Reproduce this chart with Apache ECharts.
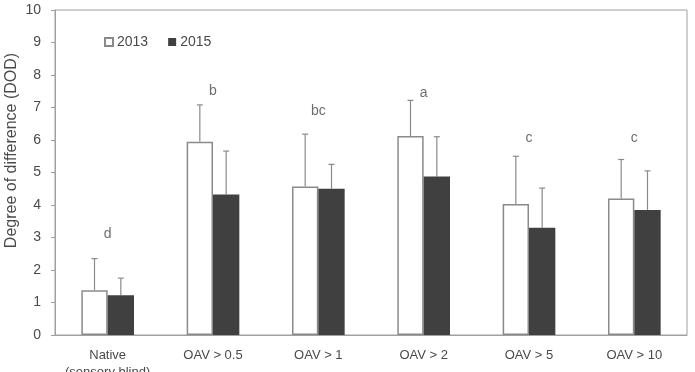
<!DOCTYPE html>
<html>
<head>
<meta charset="utf-8">
<script src="https://cdn.jsdelivr.net/npm/echarts@6/dist/echarts.min.js"></script>
<style>
  html, body { margin: 0; padding: 0; background: #fff; }
  #chart { width: 695px; height: 372px; }
</style>
</head>
<body>
<div id="chart"></div>
<script>
const categories = ['Native\n(sensory blind)', 'OAV > 0.5', 'OAV > 1', 'OAV > 2', 'OAV > 5', 'OAV > 10'];
const mean2013 = [1.38, 5.95, 4.57, 6.12, 4.03, 4.2];
const upper2013 = [2.35, 7.08, 6.18, 7.22, 5.5, 5.4];
const mean2015 = [1.22, 4.32, 4.5, 4.88, 3.3, 3.85];
const upper2015 = [1.75, 5.66, 5.25, 6.1, 4.52, 5.05];
const letters = ['d', 'b', 'bc', 'a', 'c', 'c'];
const letterPos = [3.1, 7.5, 6.9, 7.45, 6.05, 6.05];

const chart = echarts.init(document.getElementById('chart'));
const font = '"Liberation Sans", Arial, sans-serif';
const grey = '#8a8a8a';
const textCol = '#4a4a4a';

// whisker drawn from bar top up to mean + sd, with a small cap
function errorBar(offsetSign) {
    return function (params, api) {
        const idx = api.value(0);
        const top = api.coord([idx, api.value(2)]);
        const base = api.coord([idx, api.value(1)]);
        const bw = api.size([1, 0])[0] * 0.25;
        const x = top[0] + offsetSign * bw / 2;
        const style = { stroke: grey, lineWidth: 1.2 };
        return {
            type: 'group',
            children: [
                { type: 'line', shape: { x1: x, y1: base[1], x2: x, y2: top[1] }, style: style },
                { type: 'line', shape: { x1: x - 3, y1: top[1], x2: x + 3, y2: top[1] }, style: style }
            ]
        };
    };
}

const option = {
    animation: false,
    textStyle: { fontFamily: font },
    grid: {
        left: 55, right: 8, top: 10, bottom: 37,
        outerBoundsMode: 'none',
        show: true, borderColor: '#a0a0a0', borderWidth: 1
    },
    legend: {
        data: ['2013', '2015'],
        left: 99, top: 30,
        icon: 'rect', itemWidth: 8, itemHeight: 8, itemGap: 20,
        textStyle: { fontSize: 14, color: textCol, fontFamily: font, padding: [0, 0, 0, -1] }
    },
    xAxis: {
        type: 'category',
        data: categories,
        axisTick: { show: false },
        axisLine: { lineStyle: { color: '#a0a0a0' } },
        axisLabel: { color: textCol, fontSize: 13, margin: 12, lineHeight: 17, interval: 0 }
    },
    yAxis: {
        type: 'value',
        min: 0, max: 10, interval: 1,
        name: 'Degree of difference (DOD)',
        nameLocation: 'middle',
        nameGap: 35,
        nameMoveOverlap: false,
        nameTextStyle: { color: textCol, fontSize: 16, padding: [0, 0, 0, 44] },
        splitLine: { show: false },
        axisLine: { show: true, lineStyle: { color: '#a0a0a0' } },
        axisTick: { show: true, length: 4, lineStyle: { color: '#a0a0a0' } },
        axisLabel: { color: textCol, fontSize: 14, margin: 14 }
    },
    series: [
        {
            name: '2013', type: 'bar', data: mean2013,
            barWidth: '25%', barGap: '0%',
            itemStyle: { color: '#fff', borderColor: grey, borderWidth: 1.5 }
        },
        {
            name: '2015', type: 'bar', data: mean2015,
            barWidth: '25%',
            itemStyle: { color: '#404040' }
        },
        {
            type: 'custom', name: 'err2013',
            renderItem: errorBar(-1),
            data: mean2013.map((m, i) => [i, m, upper2013[i]]),
            z: 1
        },
        {
            type: 'custom', name: 'err2015',
            renderItem: errorBar(1),
            data: mean2015.map((m, i) => [i, m, upper2015[i]]),
            z: 1
        },
        {
            type: 'scatter', name: 'letters',
            symbolSize: 0,
            data: letterPos.map((v, i) => [i, v]),
            label: {
                show: true, position: 'inside',
                formatter: p => letters[p.dataIndex],
                color: textCol, fontSize: 14
            }
        }
    ]
};

chart.setOption(option);
</script>
</body>
</html>
